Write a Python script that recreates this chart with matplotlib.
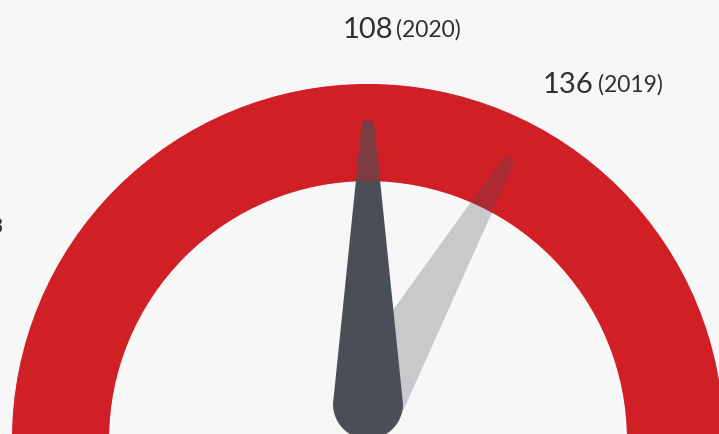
import numpy as np
import matplotlib
matplotlib.use("Agg")
import matplotlib.pyplot as plt
from matplotlib.patches import Wedge, Polygon

# data
years = ["2020", "2019"]
values = [108, 136]
gauge_range = (24, 192)   # value span of the half circle

BG = "#f7f7f7"
RED = "#d11f26"
NEEDLE = "#4a4f57"
TEXT = "#2f3033"

W, H = 719, 435
ARC_C = (368, 441)
ARC_R, ARC_W = 356, 97
PIVOT = (368, 405)
NEEDLE_LEN = 278
BASE_R, TIP_R = 35, 6.5


def value_angle(v):
    lo, hi = gauge_range
    return np.radians((v - lo) / (hi - lo) * 180 - 90)


def needle_poly(v):
    a = value_angle(v)
    u = np.array([np.sin(a), -np.cos(a)])
    n = np.array([np.cos(a), np.sin(a)])
    p = np.array(PIVOT, dtype=float)
    tip = p + u * NEEDLE_LEN
    pts = []
    for t in np.linspace(0, np.pi, 40):
        pts.append(p + BASE_R * (n * np.cos(t) - u * np.sin(t)))
    for t in np.linspace(np.pi, 2 * np.pi, 30):
        pts.append(tip + TIP_R * (n * np.cos(t) - u * np.sin(t)))
    return np.array(pts)


fig = plt.figure(figsize=(W / 100, H / 100), dpi=100, facecolor=BG)
ax = fig.add_axes([0, 0, 1, 1])
ax.set_xlim(0, W)
ax.set_ylim(H, 0)
ax.set_aspect("equal")
ax.axis("off")
ax.set_facecolor(BG)

ax.add_patch(Wedge(ARC_C, ARC_R, 180, 360, width=ARC_W, color=RED, lw=0, zorder=1))

# current year needle, opaque, then red tint over it inside the band
ax.add_patch(Polygon(needle_poly(values[0]), closed=True, color=NEEDLE, lw=0, zorder=2))
ax.add_patch(Wedge(ARC_C, ARC_R, 180, 360, width=ARC_W, color=RED, alpha=0.38, lw=0, zorder=3))
# previous year needle, translucent
ax.add_patch(Polygon(needle_poly(values[1]), closed=True, color=NEEDLE, alpha=0.27, lw=0, zorder=4))

# labels
ax.text(343, 38, str(values[0]), fontsize=21, family="Lato", color=TEXT, va="baseline")
ax.text(396, 37, f"({years[0]})", fontsize=16.5, family="Lato", color=TEXT, va="baseline")
ax.text(543, 93, str(values[1]), fontsize=21, family="Lato", color=TEXT, va="baseline")
ax.text(598, 92, f"({years[1]})", fontsize=16.5, family="Lato", color=TEXT, va="baseline")
ax.text(4.5, 233, "73", fontsize=15, family="Lato", color=TEXT, va="baseline", ha="right")

fig.savefig("out.png", dpi=100, facecolor=BG)
